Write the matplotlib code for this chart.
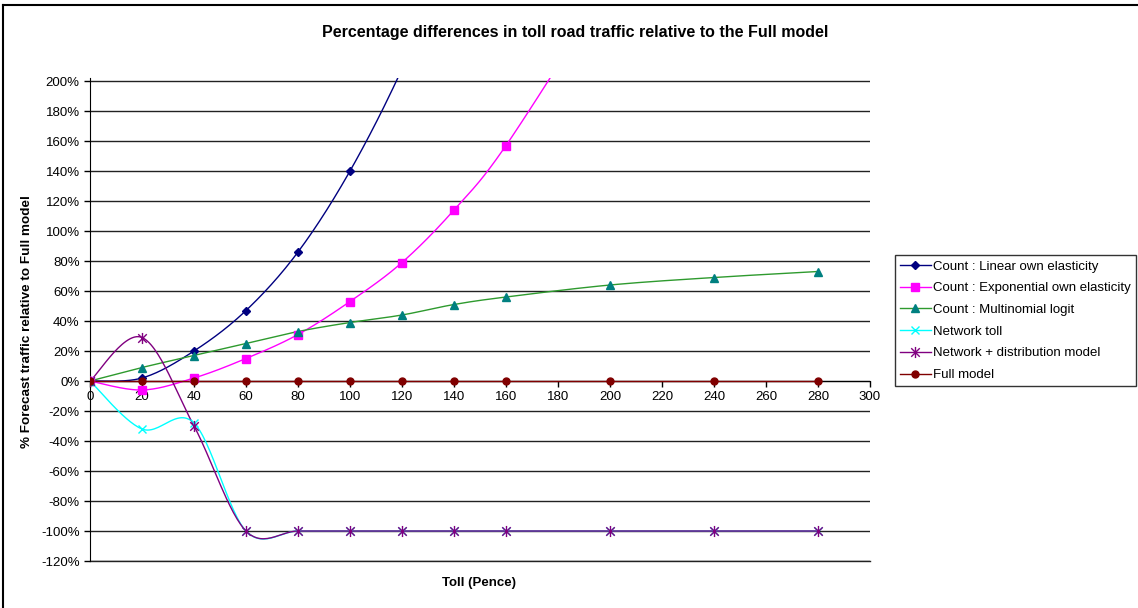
import numpy as np
import matplotlib
matplotlib.use("Agg")
from matplotlib import pyplot as plt
from matplotlib.lines import Line2D
from matplotlib.path import Path

plt.rcParams['font.family'] = ['Liberation Sans', 'DejaVu Sans']

# toll levels (pence)
toll = [0, 20, 40, 60, 80, 100, 120, 140, 160, 200, 240, 280]

# % forecast traffic relative to the full model
linear_own = [0, 2, 20, 47, 86, 140, 208, 290]
expo_own = [0, -6, 2, 15, 31, 53, 79, 114, 157, 265]
mnl = [0, 9, 17, 25, 33, 39, 44, 51, 56, 64, 69, 73]
net_toll = [0, -32, -28, -100, -100, -100, -100, -100, -100, -100, -100, -100]
net_dist = [0, 29, -30, -100, -100, -100, -100, -100, -100, -100, -100, -100]
full_model = [0] * 12

# excel style star: an x with a vertical bar through it
star = Path([(-1, -1), (1, 1), (-1, 1), (1, -1), (0, -1.3), (0, 1.3)],
            [Path.MOVETO, Path.LINETO, Path.MOVETO, Path.LINETO, Path.MOVETO, Path.LINETO])

series = [
    ("Count : Linear own elasticity", linear_own, '#000080', '#000080', 'D', 4.5),
    ("Count : Exponential own elasticity", expo_own, '#FF00FF', '#FF00FF', 's', 5.5),
    ("Count : Multinomial logit", mnl, '#2E9A2E', '#008080', '^', 6),
    ("Network toll", net_toll, '#00FFFF', '#00FFFF', 'x', 6),
    ("Network + distribution model", net_dist, '#800080', '#800080', star, 8),
    ("Full model", full_model, '#800000', '#800000', 'o', 5),
]


def smooth(x, y, n=30):
    # bezier smoothing through every point (control points from neighbours)
    x = np.asarray(x, float)
    y = np.asarray(y, float)
    px = np.concatenate([[x[0]], x, [x[-1]]])
    py = np.concatenate([[y[0]], y, [y[-1]]])
    xs, ys = [x[0]], [y[0]]
    t = np.linspace(0, 1, n)[1:]
    for i in range(1, len(px) - 2):
        p0 = np.array([px[i], py[i]])
        p3 = np.array([px[i + 1], py[i + 1]])
        c1 = p0 + (np.array([px[i + 1], py[i + 1]]) - np.array([px[i - 1], py[i - 1]])) / 6
        c2 = p3 - (np.array([px[i + 2], py[i + 2]]) - np.array([px[i], py[i]])) / 6
        b = ((1 - t) ** 3)[:, None] * p0 + (3 * (1 - t) ** 2 * t)[:, None] * c1 \
            + (3 * (1 - t) * t ** 2)[:, None] * c2 + (t ** 3)[:, None] * p3
        xs.extend(b[:, 0])
        ys.extend(b[:, 1])
    return np.array(xs), np.array(ys)


fig = plt.figure(figsize=(11.38, 6.08), dpi=100)
ax = fig.add_axes([90 / 1138, 1 - 561 / 608, 780 / 1138, 483 / 608])

handles = []
for name, vals, lc, mc, mk, ms in series:
    xv = toll[:len(vals)]
    sx, sy = smooth(xv, vals)
    ax.plot(sx, sy, color=lc, lw=1.0, zorder=3)
    ax.plot(xv, vals, ls='None', marker=mk, ms=ms, mfc=mc, mec=mc, mew=1.0, zorder=4)
    handles.append(Line2D([], [], color=lc, lw=1.0, marker=mk, ms=ms, mfc=mc, mec=mc, mew=1.0))

ax.set_xlim(0, 300)
ax.set_ylim(-120, 202)
ax.set_xticks(range(0, 301, 20))
ax.set_yticks(range(-120, 201, 20))
ax.set_yticklabels([f"{v}%" for v in range(-120, 201, 20)])
ax.yaxis.grid(True, color='#222222', lw=1.0)
ax.axhline(-120, color='#222222', lw=1.0, clip_on=False, zorder=0.5)
ax.set_axisbelow(True)
ax.spines['top'].set_visible(False)
ax.spines['right'].set_visible(False)
ax.spines['bottom'].set_position(('data', 0))
ax.tick_params(axis='both', labelsize=9.5, length=4, width=1.0, color='black')
ax.tick_params(axis='x', pad=3)

fig.text(575 / 1138, 1 - 33 / 608,
         "Percentage differences in toll road traffic relative to the Full model",
         fontsize=11.5, fontweight='bold', ha='center', va='center')
fig.text(479 / 1138, 1 - 583 / 608, "Toll (Pence)", fontsize=9.5, fontweight='bold',
         ha='center', va='center')
fig.text(27 / 1138, 1 - 322 / 608, "% Forecast traffic relative to Full model", fontsize=9.7,
         fontweight='bold', rotation=90, ha='center', va='center')

leg = fig.legend(handles, [s[0] for s in series], loc='upper left',
                 bbox_to_anchor=(895 / 1138, 1 - 255 / 608), fontsize=9.5,
                 frameon=True, fancybox=False, borderaxespad=0, handlelength=2.3,
                 handletextpad=0.15, labelspacing=0.72, borderpad=0.4)
leg.get_frame().set_edgecolor('black')
leg.get_frame().set_linewidth(1.0)

# outer chart border (top and left)
fig.add_artist(Line2D([3 / 1138, 3 / 1138], [0, 1 - 5 / 608], color='black', lw=1.5,
                      transform=fig.transFigure))
fig.add_artist(Line2D([3 / 1138, 1], [1 - 5 / 608, 1 - 5 / 608], color='black', lw=1.5,
                      transform=fig.transFigure))

fig.savefig("out.png", dpi=100)
